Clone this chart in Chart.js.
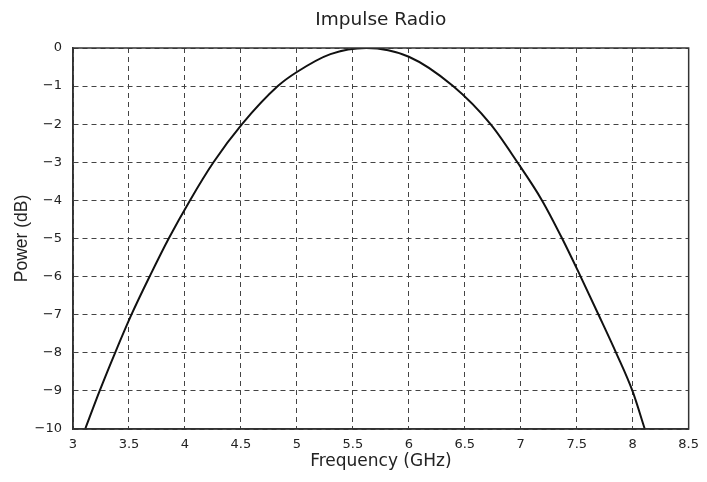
<!DOCTYPE html>
<html>
<head>
<meta charset="utf-8">
<script src="https://cdn.jsdelivr.net/npm/chart.js@4"></script>
<style>
  html, body { margin: 0; padding: 0; background: #fff; }
  #wrap { width: 707px; height: 482px; }
</style>
</head>
<body>
<div id="wrap"><canvas id="impulse"></canvas></div>
<script>
const impulse = document.getElementById('impulse');

// curve (frequency in GHz, power in dB)
const freq = [3.109, 3.238, 3.376, 3.522, 3.684, 3.855, 4.045, 4.255, 4.51, 4.83,
  5.0, 5.3, 5.62, 6.0, 6.395, 6.73, 6.97, 7.19, 7.37, 7.535, 7.695, 7.852, 7.998, 8.108];
const power = [-10, -9, -8, -7, -6, -5, -4, -3, -2, -1,
  -0.63, -0.16, 0, -0.23, -1, -2, -3, -4, -5, -6, -7, -8, -9, -10];

const xTicks = [3, 3.5, 4, 4.5, 5, 5.5, 6, 6.5, 7, 7.5, 8, 8.5];
const yTicks = [0, -1, -2, -3, -4, -5, -6, -7, -8, -9, -10];

const points = freq.map((f, i) => ({x: f, y: power[i]}));

// box round the plot area
const frame = {
  id: 'frame',
  afterDraw(chart) {
    const {ctx, chartArea: a} = chart;
    ctx.save();
    ctx.strokeStyle = '#333';
    ctx.lineWidth = 1.5;
    ctx.strokeRect(a.left, a.top, a.right - a.left, a.bottom - a.top);
    ctx.restore();
  }
};

const wide = 'DejaVu Sans, sans-serif';
const gridStyle = { color: '#444', lineWidth: 1, drawTicks: false };
const borderStyle = { display: true, color: '#333', width: 1.5, dash: [5, 4] };

new Chart(impulse, {
  type: 'line',
  data: {
    datasets: [{
      label: 'Impulse Radio',
      data: points,
      borderColor: '#111',
      borderWidth: 2,
      pointRadius: 0,
      fill: false,
      cubicInterpolationMode: 'monotone'
    }]
  },
  options: {
    responsive: true,
    maintainAspectRatio: false,
    animation: false,
    layout: { padding: { left: 0, right: 12, top: 0, bottom: 0 } },
    plugins: {
      legend: { display: false },
      tooltip: { enabled: false },
      title: { display: false }
    },
    scales: {
      x: {
        type: 'linear',
        min: 3,
        max: 8.5,
        afterBuildTicks: (s) => { s.ticks = xTicks.map(v => ({value: v})); },
        afterFit: (s) => { s.height = 53; },
        grid: gridStyle,
        border: borderStyle,
        ticks: {
          color: '#222',
          padding: 8,
          maxRotation: 0,
          font: { family: wide, size: 13 },
          callback: (v) => String(v)
        },
        title: {
          display: true,
          text: 'Frequency (GHz)',
          color: '#222',
          font: { family: wide, size: 17 },
          padding: { top: 4, bottom: 10 }
        }
      },
      // top axis only carries the chart title, centred over the plot
      top: {
        type: 'linear',
        position: 'top',
        min: 3,
        max: 8.5,
        afterFit: (s) => { s.height = 48; },
        grid: { display: false, drawTicks: false },
        border: { display: false },
        ticks: { display: false },
        title: {
          display: true,
          text: 'Impulse Radio',
          color: '#222',
          font: { family: wide, size: 18.5, lineHeight: 1.25 },
          padding: { top: 9, bottom: 0 }
        }
      },
      y: {
        type: 'linear',
        min: -10,
        max: 0,
        afterBuildTicks: (s) => { s.ticks = yTicks.map(v => ({value: v})); },
        afterFit: (s) => { s.width = 73; },
        grid: gridStyle,
        border: borderStyle,
        ticks: {
          color: '#222',
          padding: 11,
          font: { family: wide, size: 13 },
          callback: (v) => (v < 0 ? '\u2212' + Math.abs(v) : String(v))
        },
        title: {
          display: true,
          text: 'Power (dB)',
          color: '#222',
          font: { family: 'Liberation Sans, Arial, sans-serif', size: 17.5 },
          padding: { top: 12, bottom: 4 }
        }
      }
    }
  },
  plugins: [frame]
});
</script>
</body>
</html>
